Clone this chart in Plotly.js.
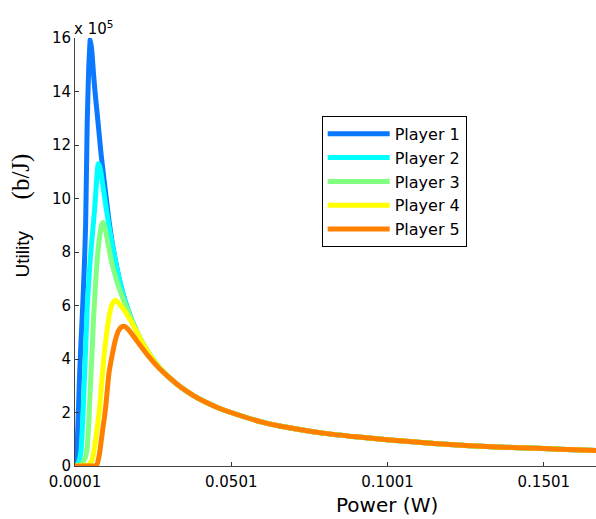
<!DOCTYPE html>
<html>
<head>
<meta charset="utf-8">
<script src="https://cdn.plot.ly/plotly-3.0.1.min.js"></script>
<style>
  html, body { margin: 0; padding: 0; background: #fff; }
  #chart { width: 596px; height: 519px; }
</style>
</head>
<body>
<div id="chart"></div>
<script>
// Transmit power (W) grid shared by all players
const powerW = [0.0001, 0.0005, 0.001, 0.0015, 0.002, 0.0025, 0.003, 0.0035, 0.004, 0.0045,
  0.005, 0.0055, 0.006, 0.0065, 0.007, 0.0075, 0.008, 0.0085, 0.009, 0.0095,
  0.010, 0.011, 0.012, 0.013, 0.014, 0.015, 0.016, 0.017, 0.018, 0.019,
  0.020, 0.022, 0.024, 0.026, 0.028, 0.030, 0.034, 0.038, 0.042, 0.046,
  0.050, 0.060, 0.070, 0.080, 0.090, 0.100, 0.110, 0.120, 0.130, 0.140,
  0.150, 0.160, 0.167];

// Utility in units of 1e5 b/J
const player1 = [0.0, 0.3, 1.4, 3.2, 4.6, 5.8, 7.2, 9.0, 12.8, 14.9,
  15.95, 15.5, 14.7, 14.0, 13.4, 12.8, 12.2, 11.6, 11.1, 10.6,
  10.1, 9.15, 8.35, 7.7, 7.12, 6.64, 6.22, 5.86, 5.54, 5.25,
  4.99, 4.54, 4.16, 3.84, 3.56, 3.33, 2.94, 2.63, 2.38, 2.17,
  2.0, 1.64, 1.40, 1.22, 1.09, 0.98, 0.885, 0.80, 0.74, 0.69,
  0.65, 0.605, 0.58];
const player2 = [0.0, 0.02, 0.08, 0.25, 0.55, 1.5, 2.9, 4.4, 5.9, 6.9,
  7.75, 8.45, 9.1, 9.8, 10.65, 11.3, 11.2, 10.9, 10.5, 10.1,
  9.7, 8.95, 8.3, 7.7, 7.12, 6.64, 6.22, 5.86, 5.54, 5.25,
  4.99, 4.54, 4.16, 3.84, 3.56, 3.33, 2.94, 2.63, 2.38, 2.17,
  2.0, 1.64, 1.40, 1.22, 1.09, 0.98, 0.885, 0.80, 0.74, 0.69,
  0.65, 0.605, 0.58];
const player3 = [0.0, 0.0, 0.01, 0.03, 0.06, 0.12, 0.22, 0.35, 0.7, 1.6,
  2.9, 4.1, 5.4, 6.5, 7.4, 8.1, 8.6, 8.95, 9.1, 9.0,
  8.75, 8.1, 7.55, 7.1, 6.72, 6.4, 6.1, 5.8, 5.52, 5.25,
  4.99, 4.54, 4.16, 3.84, 3.56, 3.33, 2.94, 2.63, 2.38, 2.17,
  2.0, 1.64, 1.40, 1.22, 1.09, 0.98, 0.885, 0.80, 0.74, 0.69,
  0.65, 0.605, 0.58];
const player4 = [0.0, 0.0, 0.0, 0.0, 0.0, 0.0, 0.01, 0.02, 0.03, 0.05,
  0.1, 0.2, 0.45, 0.8, 1.25, 1.7, 2.2, 2.95, 3.6, 4.25,
  4.75, 5.6, 6.05, 6.2, 6.1, 5.95, 5.8, 5.6, 5.42, 5.2,
  4.99, 4.54, 4.16, 3.84, 3.56, 3.33, 2.94, 2.63, 2.38, 2.17,
  2.0, 1.64, 1.40, 1.22, 1.09, 0.98, 0.885, 0.80, 0.74, 0.69,
  0.65, 0.605, 0.58];
const player5 = [0.0, 0.0, 0.0, 0.0, 0.0, 0.0, 0.0, 0.0, 0.0, 0.0,
  0.0, 0.0, 0.0, 0.0, 0.02, 0.2, 0.5, 0.95, 1.4, 1.8,
  2.3, 3.5, 4.15, 4.7, 5.05, 5.2, 5.22, 5.12, 4.98, 4.82,
  4.66, 4.35, 4.05, 3.78, 3.54, 3.33, 2.94, 2.63, 2.38, 2.17,
  2.0, 1.64, 1.40, 1.22, 1.09, 0.98, 0.885, 0.80, 0.74, 0.69,
  0.65, 0.605, 0.58];

const playerNames = ['Player 1', 'Player 2', 'Player 3', 'Player 4', 'Player 5'];
const playerColors = ['#0a78ff', '#00ffff', '#80ff80', '#ffff00', '#ff8000'];
const xTickVals = [0.0001, 0.0501, 0.1001, 0.1501];
const xTickText = ['0.0001', '0.0501', '0.1001', '0.1501'];
const yTickVals = [0, 2, 4, 6, 8, 10, 12, 14, 16];

const SANS = 'DejaVu Sans, Liberation Sans, Arial, sans-serif';

const series = [player1, player2, player3, player4, player5];
const traces = series.map((ys, i) => ({
  type: 'scatter',
  mode: 'lines',
  x: powerW,
  y: ys,
  name: playerNames[i],
  line: { color: playerColors[i], width: 5, shape: 'spline', smoothing: 0.5 }
}));

const axisCommon = {
  showline: true, linecolor: '#444', linewidth: 1,
  ticks: 'inside', ticklen: 4, tickcolor: '#333', tickwidth: 1,
  showgrid: false, zeroline: false, mirror: false,
  tickfont: { family: SANS, size: 15, color: '#000' }
};

const layout = {
  width: 596, height: 519,
  margin: { l: 75, r: 0, t: 38, b: 53, pad: 0 },
  paper_bgcolor: '#fff', plot_bgcolor: '#fff',
  font: { family: SANS, size: 15, color: '#000' },
  xaxis: Object.assign({}, axisCommon, {
    range: [0.0001, 0.1668], tickvals: xTickVals, ticktext: xTickText,
    ticklabelstandoff: 2
  }),
  yaxis: Object.assign({}, axisCommon, {
    range: [0, 16], tickvals: yTickVals
  }),
  showlegend: true,
  legend: {
    x: 0.4735, y: 0.818, xanchor: 'left', yanchor: 'top',
    bgcolor: '#fff', bordercolor: '#000', borderwidth: 1,
    font: { family: SANS, size: 16, color: '#000' }, itemwidth: 62
  },
  annotations: [
    {
      xref: 'paper', yref: 'paper', x: -0.006, y: 0.995, xanchor: 'left', yanchor: 'bottom',
      text: 'x 10<sup>5</sup>', showarrow: false, font: { family: SANS, size: 15 }
    },
    {
      xref: 'paper', yref: 'paper', x: -0.103, y: 0.586, xanchor: 'center', yanchor: 'middle',
      textangle: -90, showarrow: false,
      font: { family: 'Liberation Sans, Arial, sans-serif', size: 19 },
      text: 'Utility\u00A0\u00A0\u00A0\u00A0\u00A0\u00A0<span style="font-family:\'Liberation Serif\',\'Times New Roman\',serif;font-size:25px">(b/J)</span>'
    },
    {
      xref: 'paper', yref: 'paper', x: 0.598, y: -0.091, xanchor: 'center', yanchor: 'middle',
      text: 'Power (W)', showarrow: false, font: { family: SANS, size: 20 }
    }
  ]
};

Plotly.newPlot('chart', traces, layout, { displayModeBar: false, staticPlot: true });
</script>
</body>
</html>
